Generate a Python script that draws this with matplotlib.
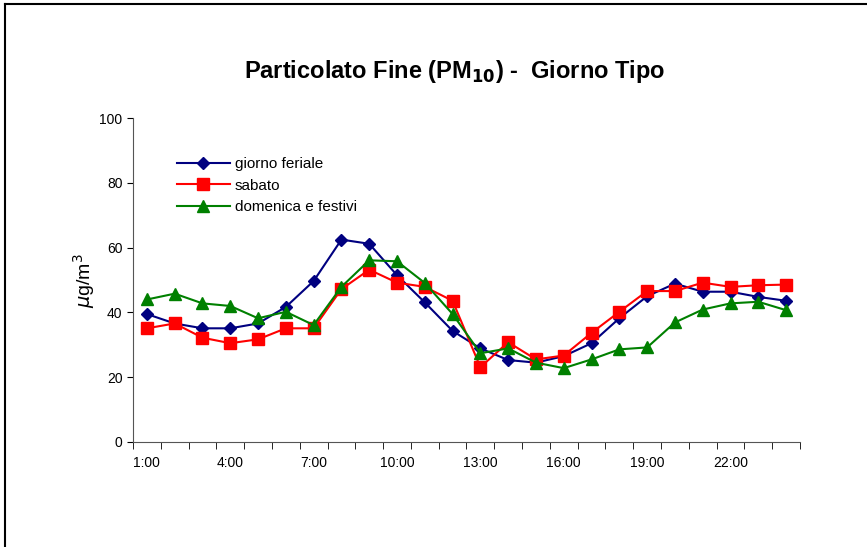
import matplotlib
matplotlib.use('Agg')
import matplotlib.pyplot as plt
from matplotlib.lines import Line2D

plt.rcParams['font.family'] = ['Liberation Sans', 'DejaVu Sans']

# ore del giorno tipo
ore = list(range(1, 25))
etichette_ore = ['1:00', '4:00', '7:00', '10:00', '13:00', '16:00', '19:00', '22:00']
ore_etichette = [1, 4, 7, 10, 13, 16, 19, 22]

# concentrazioni PM10 (ug/m3)
feriale = [39.5, 36.6, 35.1, 35.1, 36.6, 41.7, 49.7, 62.5, 61.2, 51.5, 43.1, 34.3,
           28.9, 25.3, 24.5, 26.5, 30.5, 38.2, 45.0, 48.9, 46.4, 46.4, 44.8, 43.6]
sabato = [35.1, 36.6, 32.2, 30.5, 31.7, 35.1, 35.1, 47.2, 53.2, 49.2, 47.9, 43.6,
          23.1, 30.8, 25.5, 26.7, 33.7, 40.2, 46.6, 46.6, 49.2, 47.9, 48.4, 48.6]
festivi = [44.0, 45.8, 42.8, 42.0, 38.2, 40.2, 36.1, 47.9, 56.1, 55.8, 49.1, 39.5,
           27.4, 28.9, 24.5, 22.8, 25.5, 28.6, 29.2, 36.9, 40.9, 42.8, 43.3, 40.7]

fig = plt.figure(figsize=(8.67, 5.47), dpi=100)
ax = fig.add_axes([0.1534, 0.192, 0.7693, 0.592])

ax.plot(ore, feriale, color='#000080', marker='D', ms=6.5, lw=1.5, label='giorno feriale')
ax.plot(ore, sabato, color='#ff0000', marker='s', ms=8.5, lw=1.5, label='sabato')
ax.plot(ore, festivi, color='#008000', marker='^', ms=9, lw=1.5, label='domenica e festivi')

ax.set_xlim(0.5, 24.5)
ax.set_ylim(0, 100)
ax.set_yticks([0, 20, 40, 60, 80, 100])
ax.set_xticks(ore_etichette)
ax.set_xticklabels(etichette_ore)
ax.set_xticks([i + 0.5 for i in range(0, 25)], minor=True)
ax.tick_params(axis='x', which='major', length=0, pad=10, labelsize=10)
ax.tick_params(axis='x', which='minor', length=5, direction='out')
ax.tick_params(axis='y', length=4, direction='out', labelsize=10)
ax.spines['top'].set_visible(False)
ax.spines['right'].set_visible(False)
ax.spines['left'].set_color('#555555')
ax.spines['bottom'].set_color('#555555')

ax.set_ylabel(r'$\mu$g/m$^3$', fontsize=14, labelpad=2)

leg = ax.legend(loc='upper left', bbox_to_anchor=(0.045, 0.922), frameon=False,
                fontsize=11, handlelength=3.5, handletextpad=0.3, labelspacing=0.5)

fig.text(0.525, 0.87, r'Particolato Fine (PM$_{\mathbf{10}}$) -  Giorno Tipo',
         ha='center', va='center', fontsize=17, fontweight='bold')

# cornice del grafico
fig.add_artist(Line2D([0.006, 0.006], [0, 0.992], color='black', lw=1.5, transform=fig.transFigure))
fig.add_artist(Line2D([0.006, 1], [0.992, 0.992], color='black', lw=1.5, transform=fig.transFigure))

fig.savefig('out.png', dpi=100)
